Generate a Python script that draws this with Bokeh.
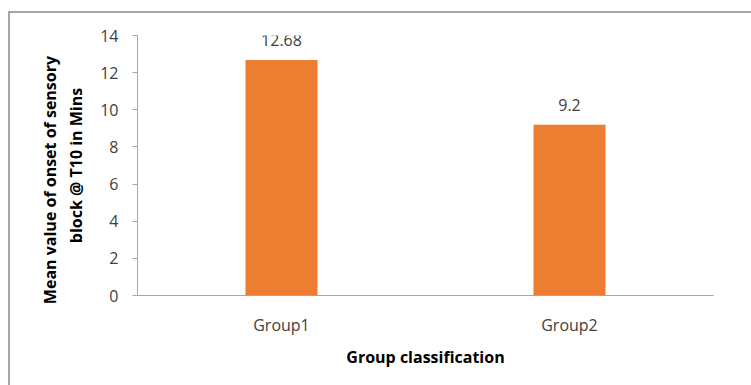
from bokeh.plotting import figure
from bokeh.models import ColumnDataSource, FactorRange, Range1d, LabelSet, FixedTicker
from bokeh.core.properties import value
from bokeh.embed import file_html
from bokeh.resources import INLINE

groups = ["Group1", "Group2"]
means = [12.68, 9.2]
labels = ["12.68", "9.2"]
y_ticks = [0, 2, 4, 6, 8, 10, 12, 14]

source = ColumnDataSource(dict(x=groups, top=means, label=labels))

FONT = "Open Sans"
GRAY = "#a6a6a6"
TXT = "#404040"

p = figure(
    width=741, height=372,
    x_range=FactorRange(*groups, range_padding=0),
    y_range=Range1d(0, 14),
    output_backend="svg", toolbar_location=None,
    min_border_left=127, min_border_right=38,
    min_border_top=22, min_border_bottom=90,
)
p.margin = (13, 0, 0, 10)
p.styles = {"outline": "2px solid #a6a6a6"}

p.vbar(x="x", top="top", width=0.25, source=source, fill_color="#ED7D31", line_color=None)

lab = LabelSet(x="x", y="top", text="label", source=source, y_offset=20,
               text_align="center", text_baseline="middle",
               text_font=value(FONT), text_font_size="16px", text_color=TXT)
p.add_layout(lab)

p.outline_line_color = None
p.xgrid.grid_line_color = None
p.ygrid.grid_line_color = None
p.background_fill_color = "white"
p.border_fill_color = "white"

p.yaxis.ticker = FixedTicker(ticks=y_ticks)
p.yaxis.minor_tick_line_color = None
p.yaxis.major_tick_in = 0
p.yaxis.major_tick_out = 5
p.yaxis.major_tick_line_color = GRAY
p.yaxis.axis_line_color = GRAY
p.yaxis.major_label_standoff = 14
p.yaxis.major_label_text_font = FONT
p.yaxis.major_label_text_font_size = "16px"
p.yaxis.major_label_text_color = TXT
p.yaxis.axis_label = "Mean value of onset of sensory       \nblock @ T10 in Mins"
p.yaxis.axis_label_text_font = FONT
p.yaxis.axis_label_text_font_style = "bold"
p.yaxis.axis_label_text_font_size = "16px"
p.yaxis.axis_label_text_color = "#000000"
p.yaxis.axis_label_standoff = 10

p.xaxis.major_tick_line_color = None
p.xaxis.minor_tick_line_color = None
p.xaxis.major_tick_out = 0
p.xaxis.axis_line_color = GRAY
p.xaxis.major_label_standoff = 18
p.xaxis.major_label_text_font = FONT
p.xaxis.major_label_text_font_size = "16px"
p.xaxis.major_label_text_color = TXT
p.xaxis.axis_label = "Group classification"
p.xaxis.axis_label_text_font = FONT
p.xaxis.axis_label_text_font_style = "bold"
p.xaxis.axis_label_text_font_size = "16px"
p.xaxis.axis_label_text_color = "#000000"
p.xaxis.axis_label_standoff = 7

open("out.html", "w").write(file_html(p, INLINE))
